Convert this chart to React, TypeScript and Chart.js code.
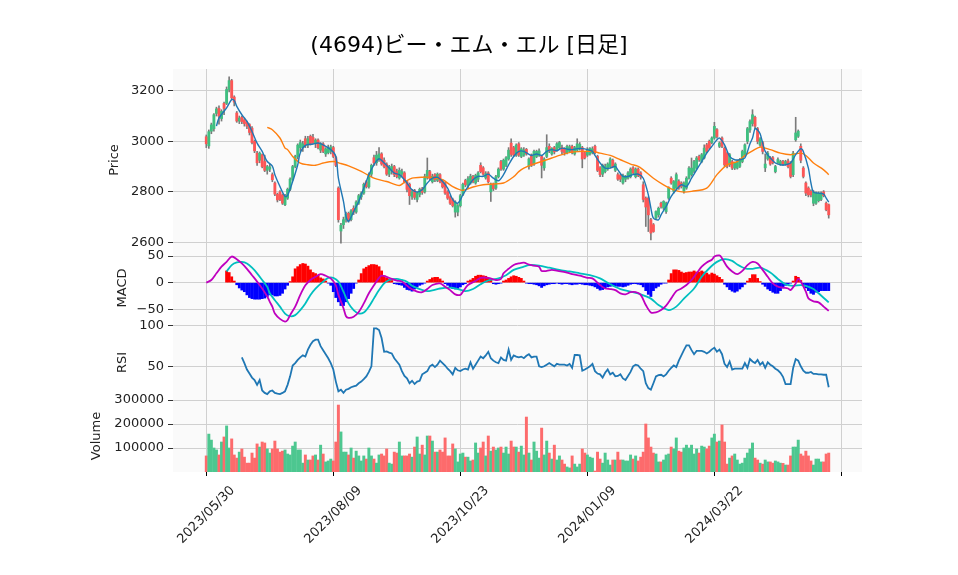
import React, { useEffect, useRef } from 'react';
import { Chart, registerables } from 'chart.js';

Chart.register(...registerables);

const TITLE = '(4694)ビー・エム・エル [日足]';
const X_TICKS = [0, 50, 100, 150, 200, 250];
const X_TICK_LABELS = ['2023/05/30', '2023/08/09', '2023/10/23', '2024/01/09', '2024/03/22', ''];
const PRICE_TICKS = [2600, 2800, 3000, 3200];
const MACD_TICKS = [-50, 0, 50];
const RSI_TICKS = [50, 100];
const VOL_TICKS = [100000, 200000, 300000];

const opens = [
  3018, 2982, 3040, 3050, 3110, 3130, 3090, 3150, 3150, 3205,
  3240, 3175, 3112, 3080, 3095, 3085, 3075, 3066, 3052, 3000,
  2953, 2925, 2947, 2920, 2885, 2890, 2868, 2835, 2790, 2800,
  2788, 2749, 2775, 2810, 2850, 2900, 2940, 2975, 2975, 3010,
  2985, 3020, 3015, 2990, 3005, 2965, 2990, 2950, 2955, 2960,
  2975, 2935, 2815, 2645, 2670, 2690, 2715, 2690, 2735, 2720,
  2755, 2780, 2795, 2840, 2820, 2870, 2935, 2915, 2930, 2950,
  2925, 2910, 2870, 2885, 2900, 2880, 2855, 2870, 2875, 2840,
  2830, 2780, 2805, 2770, 2790, 2812, 2800, 2855, 2880, 2840,
  2868, 2845, 2868, 2842, 2835, 2800, 2780, 2770, 2720, 2720,
  2745, 2790, 2845, 2825, 2835, 2860, 2835, 2850, 2905, 2895,
  2855, 2875, 2800, 2830, 2815, 2860, 2920, 2890, 2905, 2930,
  2993, 2975, 2945, 2990, 2940, 2945, 2968, 2900, 2945, 2910,
  2940, 2945, 2940, 2895, 2940, 2980, 2950, 2975, 2965, 2975,
  2975, 2970, 2955, 2960, 2980, 2950, 2965, 2970, 2975, 2955,
  2945, 2950, 2955, 2980, 2940, 2895, 2870, 2880, 2890, 2900,
  2925, 2885, 2868, 2865, 2835, 2850, 2855, 2860, 2895, 2860,
  2890, 2875, 2828, 2775, 2775, 2690, 2670, 2696, 2709, 2755,
  2736, 2722, 2775, 2854, 2802, 2815, 2841, 2835, 2802, 2815,
  2854, 2868, 2881, 2894, 2940, 2920, 2934, 2986, 3000, 2995,
  3013, 3046, 2980, 3013, 2973, 2953, 2907, 2920, 2894, 2894,
  2901, 2920, 2947, 3000, 3045, 3070, 3095, 3050, 2985, 2995,
  2895, 2930, 2935, 2935, 2880, 2915, 2910, 2920, 2910, 2922,
  2914, 2868, 3006, 3020, 2980, 2894, 2835, 2815, 2802, 2755,
  2755, 2765, 2770, 2800, 2755, 2749,
];
const highs = [
  3025, 3045, 3072, 3110, 3135, 3140, 3125, 3155, 3215, 3255,
  3245, 3180, 3118, 3100, 3100, 3092, 3080, 3070, 3058, 3005,
  2960, 2958, 2950, 2945, 2905, 2910, 2875, 2840, 2795, 2805,
  2792, 2790, 2815, 2855, 2905, 2945, 2990, 3005, 3000, 3020,
  3020, 3025, 3028, 3010, 3010, 2995, 2995, 2975, 2985, 2985,
  2980, 2940, 2820, 2675, 2700, 2720, 2720, 2730, 2745, 2765,
  2790, 2800, 2835, 2845, 2875, 2910, 2945, 2960, 2975, 2955,
  2935, 2915, 2905, 2910, 2905, 2890, 2895, 2890, 2880, 2845,
  2835, 2810, 2810, 2800, 2815, 2818, 2870, 2934, 2885, 2870,
  2872, 2875, 2872, 2848, 2840, 2805, 2785, 2775, 2765, 2750,
  2790, 2835, 2850, 2860, 2870, 2865, 2870, 2880, 2915, 2900,
  2880, 2880, 2835, 2835, 2865, 2895, 2925, 2930, 2940, 2975,
  3010, 2980, 2990, 2995, 2975, 2975, 2972, 2935, 2950, 2965,
  2965, 2970, 2945, 2935, 3026, 2990, 2975, 2980, 2995, 3000,
  2985, 2975, 2985, 2985, 2985, 2980, 3010, 2995, 2980, 2960,
  2975, 2975, 2978, 2985, 2945, 2900, 2910, 2910, 2915, 2935,
  2930, 2915, 2875, 2870, 2870, 2865, 2880, 2895, 2900, 2895,
  2895, 2880, 2840, 2780, 2780, 2695, 2675, 2725, 2740, 2760,
  2765, 2760, 2820, 2860, 2845, 2875, 2848, 2840, 2840, 2860,
  2900, 2934, 2925, 2940, 2945, 2952, 2986, 2992, 3005, 3018,
  3075, 3050, 2998, 3018, 2978, 2958, 2952, 2925, 2918, 2925,
  2932, 2965, 2990, 3055, 3085, 3125, 3100, 3055, 3015, 3000,
  2950, 2960, 2940, 2940, 2905, 2935, 2925, 2925, 2925, 2930,
  2920, 2960, 3095, 3045, 2990, 2900, 2840, 2820, 2808, 2805,
  2800, 2800, 2800, 2805, 2760, 2752,
];
const lows = [
  2975, 2972, 3030, 3040, 3100, 3068, 3080, 3105, 3145, 3195,
  3165, 3140, 3075, 3070, 3070, 3060, 3050, 3025, 2990, 2955,
  2905, 2915, 2895, 2880, 2870, 2880, 2840, 2785, 2760, 2765,
  2750, 2745, 2770, 2805, 2845, 2895, 2930, 2960, 2960, 2975,
  2975, 2985, 2990, 2975, 2970, 2955, 2955, 2940, 2950, 2950,
  2935, 2900, 2680, 2597, 2655, 2680, 2680, 2685, 2710, 2715,
  2750, 2770, 2790, 2815, 2815, 2860, 2905, 2905, 2920, 2905,
  2895, 2865, 2860, 2870, 2860, 2855, 2850, 2860, 2835, 2800,
  2750, 2770, 2770, 2760, 2780, 2790, 2795, 2850, 2845, 2835,
  2840, 2840, 2835, 2815, 2790, 2770, 2750, 2740, 2700, 2705,
  2740, 2785, 2820, 2815, 2830, 2835, 2830, 2840, 2875, 2865,
  2850, 2835, 2762, 2805, 2810, 2855, 2885, 2885, 2900, 2925,
  2940, 2940, 2940, 2940, 2935, 2940, 2945, 2890, 2900, 2905,
  2935, 2940, 2855, 2885, 2935, 2955, 2945, 2950, 2960, 2970,
  2950, 2945, 2950, 2955, 2950, 2945, 2960, 2965, 2895, 2930,
  2940, 2945, 2950, 2950, 2880, 2860, 2860, 2875, 2885, 2895,
  2895, 2880, 2845, 2840, 2830, 2840, 2850, 2855, 2870, 2855,
  2860, 2850, 2760, 2663, 2643, 2610, 2640, 2690, 2700, 2735,
  2730, 2715, 2770, 2830, 2795, 2810, 2810, 2815, 2795, 2810,
  2850, 2862, 2875, 2890, 2920, 2915, 2930, 2955, 2968, 2990,
  3008, 3012, 2975, 2975, 2900, 2895, 2900, 2888, 2888, 2890,
  2896, 2915, 2940, 2990, 3035, 3060, 3050, 2990, 2980, 2950,
  2880, 2925, 2905, 2910, 2875, 2910, 2905, 2905, 2905, 2895,
  2855, 2860, 3000, 3015, 2915, 2855, 2785, 2780, 2780, 2745,
  2750, 2760, 2765, 2780, 2725, 2696,
];
const closes = [
  2990, 3038, 3065, 3105, 3128, 3100, 3118, 3130, 3205, 3240,
  3172, 3155, 3080, 3092, 3078, 3070, 3060, 3035, 2995, 2962,
  2915, 2953, 2900, 2885, 2900, 2898, 2848, 2791, 2768, 2770,
  2755, 2782, 2810, 2850, 2900, 2940, 2985, 2995, 2990, 2985,
  3010, 2990, 2995, 3005, 2975, 2990, 2960, 2970, 2975, 2978,
  2940, 2905, 2690, 2668, 2690, 2712, 2690, 2725, 2720, 2760,
  2785, 2795, 2830, 2820, 2870, 2905, 2915, 2945, 2950, 2910,
  2900, 2870, 2900, 2900, 2868, 2860, 2885, 2880, 2840, 2810,
  2785, 2800, 2778, 2795, 2810, 2798, 2860, 2885, 2852, 2862,
  2848, 2870, 2840, 2820, 2795, 2775, 2755, 2745, 2760, 2745,
  2785, 2830, 2828, 2852, 2862, 2840, 2865, 2875, 2880, 2870,
  2872, 2840, 2830, 2812, 2860, 2890, 2890, 2925, 2935, 2965,
  2948, 2945, 2985, 2945, 2970, 2965, 2950, 2930, 2905, 2960,
  2960, 2962, 2905, 2930, 2975, 2962, 2972, 2958, 2990, 2995,
  2960, 2955, 2980, 2978, 2955, 2975, 2990, 2988, 2930, 2935,
  2965, 2972, 2970, 2955, 2885, 2868, 2905, 2900, 2910, 2930,
  2900, 2910, 2850, 2850, 2865, 2860, 2875, 2890, 2875, 2890,
  2865, 2858, 2770, 2740, 2709, 2637, 2643, 2722, 2735, 2742,
  2762, 2755, 2815, 2835, 2841, 2868, 2815, 2821, 2835, 2854,
  2894, 2894, 2920, 2934, 2927, 2947, 2973, 2960, 2973, 3013,
  3059, 3019, 2993, 2980, 2907, 2901, 2947, 2894, 2914, 2920,
  2927, 2960, 2986, 3050, 3078, 3105, 3060, 3000, 3010, 2960,
  2910, 2953, 2910, 2915, 2900, 2928, 2920, 2910, 2920, 2900,
  2861, 2953, 3033, 3040, 2925, 2861, 2795, 2788, 2788, 2800,
  2795, 2795, 2795, 2785, 2729, 2709,
];
const volumes = [
  67000, 158000, 133000, 100000, 92000, 71000, 125000, 146000, 192000, 100000,
  138000, 71000, 58000, 83000, 96000, 62000, 37000, 37000, 79000, 58000,
  117000, 104000, 125000, 121000, 96000, 79000, 96000, 129000, 96000, 83000,
  87000, 92000, 75000, 71000, 108000, 125000, 92000, 92000, 37000, 71000,
  50000, 50000, 67000, 71000, 50000, 112000, 75000, 42000, 46000, 54000,
  46000, 125000, 279000, 167000, 83000, 83000, 71000, 100000, 58000, 87000,
  67000, 46000, 67000, 54000, 100000, 67000, 54000, 37000, 71000, 75000,
  67000, 96000, 37000, 33000, 83000, 79000, 125000, 67000, 67000, 67000,
  75000, 62000, 104000, 146000, 75000, 112000, 71000, 150000, 150000, 129000,
  83000, 83000, 92000, 83000, 142000, 67000, 67000, 117000, 96000, 42000,
  75000, 79000, 62000, 62000, 46000, 50000, 121000, 79000, 100000, 125000,
  67000, 150000, 87000, 104000, 92000, 100000, 104000, 79000, 104000, 75000,
  129000, 104000, 104000, 83000, 108000, 71000, 229000, 79000, 50000, 125000,
  87000, 58000, 183000, 71000, 129000, 79000, 54000, 112000, 50000, 67000,
  50000, 33000, 21000, 17000, 67000, 33000, 21000, 33000, 96000, 79000,
  71000, 62000, 58000, 4000, 83000, 54000, 37000, 79000, 50000, 29000,
  50000, 50000, 83000, 50000, 50000, 46000, 46000, 71000, 54000, 67000,
  46000, 62000, 83000, 200000, 142000, 104000, 79000, 75000, 42000, 42000,
  50000, 71000, 75000, 104000, 96000, 142000, 87000, 83000, 100000, 112000,
  100000, 112000, 75000, 96000, 79000, 108000, 104000, 96000, 108000, 142000,
  158000, 125000, 129000, 196000, 125000, 33000, 58000, 67000, 75000, 50000,
  33000, 37000, 58000, 79000, 96000, 121000, 58000, 50000, 37000, 33000,
  50000, 42000, 42000, 37000, 46000, 42000, 37000, 36000, 29000, 29000,
  67000, 104000, 104000, 133000, 75000, 67000, 87000, 67000, 46000, 29000,
  54000, 54000, 42000, 42000, 75000, 79000,
];

// moving averages (day index, value)
const ma5Points = [
  [4, 3060], [5, 3092], [8, 3132], [10, 3165], [11, 3162], [12, 3138], [14, 3105], [16, 3079], [18, 3039], [20, 2993],
  [22, 2960], [24, 2920], [26, 2902], [27, 2868], [29, 2821], [31, 2782], [32, 2786], [34, 2841], [36, 2907], [37, 2955],
  [39, 2984], [42, 2989], [44, 2993], [46, 2986], [49, 2967], [51, 2940], [52, 2854], [54, 2762], [55, 2703], [56, 2683],
  [58, 2722], [60, 2762], [62, 2815], [64, 2868], [66, 2907], [68, 2931], [70, 2914], [72, 2894], [74, 2874], [76, 2868],
  [78, 2848], [79, 2835], [81, 2808], [83, 2799], [85, 2808], [87, 2835], [89, 2854], [91, 2857], [93, 2841], [95, 2815],
  [97, 2769], [99, 2755], [101, 2788], [103, 2821], [105, 2848], [107, 2861], [109, 2861], [111, 2870], [113, 2854], [115, 2844],
  [117, 2868], [119, 2907], [121, 2940], [123, 2960], [125, 2960], [128, 2944], [130, 2950], [132, 2944], [134, 2960], [136, 2967],
  [138, 2963], [140, 2973], [142, 2969], [144, 2967], [146, 2971], [148, 2971], [150, 2967], [152, 2960], [153, 2944], [155, 2914],
  [157, 2894], [159, 2894], [161, 2901], [162, 2887], [164, 2861], [166, 2861], [168, 2868], [170, 2870], [172, 2854], [174, 2788],
  [175, 2736], [176, 2696], [178, 2689], [179, 2709], [181, 2742], [183, 2782], [185, 2808], [187, 2828], [189, 2821], [191, 2854],
  [193, 2887], [195, 2920], [197, 2953], [199, 2980], [201, 3006], [202, 3013], [204, 2986], [206, 2940], [208, 2927], [210, 2927],
  [212, 2934], [214, 2990], [215, 3013], [216, 3050], [217, 3045], [218, 3030], [219, 2993], [220, 2960], [222, 2934], [224, 2914],
  [226, 2907], [228, 2907], [230, 2914], [232, 2947], [234, 2971], [235, 2960], [237, 2894], [238, 2835], [239, 2799], [241, 2795],
  [243, 2791], [244, 2775], [245, 2759],
];
const ma25Points = [
  [24, 3055], [26, 3046], [29, 3013], [31, 2973], [32, 2967], [34, 2940], [37, 2914], [40, 2907], [43, 2905], [46, 2914],
  [50, 2920], [53, 2912], [56, 2903], [61, 2881], [66, 2854], [71, 2841], [76, 2825], [78, 2838], [81, 2854], [85, 2858],
  [89, 2857], [93, 2848], [97, 2821], [101, 2806], [105, 2819], [109, 2828], [113, 2831], [117, 2835], [121, 2860], [123, 2880],
  [125, 2894], [128, 2907], [132, 2920], [136, 2934], [140, 2947], [144, 2957], [148, 2960], [152, 2960], [155, 2953], [159, 2944],
  [163, 2927], [167, 2910], [170, 2901], [172, 2887], [176, 2854], [180, 2828], [184, 2808], [188, 2799], [191, 2802], [197, 2815],
  [201, 2868], [205, 2907], [209, 2920], [212, 2944], [215, 2962], [218, 2977], [222, 2967], [226, 2953], [230, 2947], [234, 2953],
  [236, 2944], [239, 2914], [243, 2887], [245, 2868],
];

// MACD panel
const macdPoints = [
  [0, 0], [2, 5], [4, 17.5], [6, 30], [8, 39], [10, 49], [12, 44], [14, 36], [16, 26], [18, 14],
  [20, 2], [22, -11], [24, -26], [25, -36], [26, -45], [27, -58], [29, -68], [31, -73], [32, -70], [33, -61],
  [35, -45], [37, -23], [39, -5], [41, 5], [43, 11], [45, 16], [47, 13], [49, 8], [51, -5], [52, -23],
  [54, -48], [55, -63], [56, -66], [58, -64], [60, -55], [62, -39], [64, -20], [66, -5], [68, 9], [69, 13],
  [71, 11], [73, 7], [75, 4], [77, 2], [80, -9.5], [83, -17], [85, -18], [87, -12], [89, -4.5], [92, -1.4],
  [94, -7.6], [96, -14], [98, -22], [100, -23], [101, -17], [103, -4.5], [106, 3], [108, 9], [111, 9], [114, 5],
  [116, 7], [117, 17.5], [119, 26], [121, 33], [123, 36], [125, 37.5], [127, 34], [129, 32], [131, 30], [132, 22],
  [134, 22], [136, 24], [138, 22.5], [142, 19], [144, 16], [147, 13], [150, 9], [152, 8], [155, -4.5], [157, -11],
  [159, -12], [161, -14], [163, -20], [165, -22], [167, -18], [169, -18], [171, -23], [173, -42], [175, -56], [177, -56],
  [179, -51.5], [181, -43], [183, -29.5], [185, -16], [187, -11], [189, -4.5], [191, 5], [193, 17.5], [195, 30], [197, 38],
  [199, 43], [200, 49], [202, 51], [203, 46], [205, 30], [207, 21], [209, 16], [211, 22], [213, 33], [215, 39],
  [217, 36], [219, 24], [221, 11], [223, -1.4], [225, -7.6], [227, -9.5], [229, -11], [230, -14], [232, -1.4], [233, 7],
  [234, 2], [236, -17], [237, -29.5], [239, -35], [241, -37], [243, -45], [245, -53],
];
const signalPoints = [
  [8, 21], [10, 33], [12, 38], [14, 39], [16, 36], [18, 28], [20, 17.5], [22, 5], [24, -8], [25, -20],
  [27, -33], [29, -45], [31, -58], [33, -63], [35, -61], [37, -51.5], [39, -39], [41, -23], [43, -11], [46, 2],
  [48, 9], [50, 9], [52, 2], [54, -17], [56, -39], [58, -51.5], [60, -58], [62, -56], [64, -45], [66, -29.5],
  [68, -14], [70, -1.4], [72, 5], [75, 7], [77, 5], [79, 1.8], [81, -5.7], [84, -12], [87, -16], [89, -14.5],
  [92, -11], [96, -9.5], [99, -12], [102, -16], [105, -12], [108, -3], [111, 4], [115, 8], [118, 14], [121, 24],
  [125, 30], [127, 33], [131, 32], [135, 28], [139, 24], [143, 21], [147, 17.5], [151, 14], [155, 8], [159, -3],
  [163, -12], [167, -17], [171, -22], [175, -30], [178, -42], [182, -51.5], [185, -45], [188, -30], [192, -11], [195, 11],
  [198, 27], [201, 39], [204, 44], [207, 41], [209, 34], [212, 27], [215, 26], [218, 28], [222, 19], [225, 7],
  [228, -3], [231, -6], [234, -4.5], [236, -6], [239, -12], [241, -20], [245, -37],
];
const histogram = [
  null, null, null, null, null, null, null, null, 22, 19,
  11, 3, -4, -10, -14, -17, -23, -28, -30, -31,
  -31, -31, -30, -29, -26, -23, -23, -25, -25, -24,
  -20, -12, -5, 2, 11, 26, 30, 34, 36, 35,
  31, 24, 19, 17, 14, 9, 7, 3, -1, -5,
  -17, -28, -36, -43, -43, -36, -30, -20, -11, -1,
  5, 17, 26, 29, 32, 34, 34, 33, 30, 22,
  13, 9, 7, 4, -2, -3, -4, -5, -9, -13,
  -14, -16, -12, -8, -5, -3, -1, 3, 6, 9,
  10, 10, 7, 3, -2, -5, -8, -11, -12, -11,
  -8, -4, -2, 3, 5, 8, 12, 14, 14, 13,
  12, 8, 6, -2, -3, -2, -1, 3, 5, 8,
  11, 13, 12, 10, 8, 3, -1, -2, -2, -3,
  -4, -6, -9, -6, -4, -3, -2, -2, -1, -2,
  -3, -2, -2, -3, -4, -3, -3, -2, -3, -4,
  -4, -5, -6, -8, -11, -14, -13, -10, -8, -7,
  -6, -6, -7, -7, -8, -7, -5, -3, -2, -2,
  -3, -4, -8, -15, -22, -26, -15, -10, -7, -3,
  -1, -1, 5, 17, 24, 24, 23, 20, 18, 19,
  20, 20, 22, 20, 20, 22, 20, 18, 15, 18,
  16, 13, 10, 6, -3, -8, -13, -16, -18, -16,
  -12, -8, -3, 3, 8, 15, 15, 8, 2, -3,
  -7, -12, -15, -18, -20, -20, -15, -10, -5, -3,
  -1, 3, 12, 10, 4, -5, -10, -15, -20, -22,
  -18, -17, -15, -15, -15, -15,
];

// RSI (14) per day
const rsi = [
  null, null, null, null, null, null, null, null, null, null,
  null, null, null, null, 61, 54, 46, 41, 36, 33,
  27, 33, 20, 17, 15.5, 19, 20, 17, 16, 15.5,
  17, 19, 27, 37.5, 51, 54, 58, 61, 63.5, 62,
  70.6, 76.7, 81, 83, 83, 75, 70, 65, 60, 54,
  46, 31, 19, 21, 17, 21, 22, 24, 25, 26,
  29, 31, 34, 37.5, 43, 50, 97, 97, 95, 85,
  68, 68.5, 67, 66, 60, 56, 52, 44, 38, 35,
  29, 32, 28, 31, 32, 40, 42, 44, 50, 52,
  49, 52, 57, 54, 51, 47, 44, 40, 48, 45,
  44, 46, 47, 46, 55, 47, 52, 57, 62, 60,
  63.5, 68, 60, 57, 55, 54, 61, 58, 57, 70.6,
  58, 63.5, 62, 61, 62, 60, 63, 65, 61, 62,
  62, 50, 49, 50, 52, 54, 52, 50, 53, 52,
  52, 52, 51, 53, 48, 64, 64, 63.5, 44.5, 46,
  48, 50, 53, 44, 41, 40, 36, 42, 46, 40,
  42, 37.5, 38, 40, 35, 33, 38, 43, 50, 52,
  51, 47, 44, 29, 23, 21, 29, 37.5, 39, 39.5,
  37.5, 40, 44.5, 48, 51, 49, 57, 63.5, 70, 76,
  76, 70, 65, 69, 69, 69, 68, 66, 68, 71,
  73, 68, 70.6, 65, 53, 49, 56, 46, 47, 47,
  47, 47, 54, 48, 59, 56, 54, 58, 52, 55,
  48, 55, 52, 50, 47, 45, 42, 37, 28, 28,
  28, 48, 59, 57, 50, 44.5, 42, 42, 43, 40.5,
  40.5, 40, 40, 39.5, 39.5, 24,
];

const FONT = '"DejaVu Sans", "Noto Sans CJK JP", sans-serif';
const GRID = '#d0d0d0';
const PANEL_BG = '#fafafa';
const UP = '#3fbf80';
const DOWN = '#fd5656';
const VOL_UP = '#4dc790';
const VOL_DOWN = '#fd6b6c';
const WICK = '#7a7a7a';

const fmt = (v: number) => (v < 0 ? '\u2212' + Math.abs(v) : String(v));

const panelPlugin = {
  id: 'panelDeco',
  beforeDraw(chart: any) {
    const { ctx, chartArea } = chart;
    ctx.save();
    ctx.fillStyle = PANEL_BG;
    ['yP', 'yM', 'yR', 'yV'].forEach((id) => {
      const s = chart.scales[id];
      ctx.fillRect(chartArea.left, s.top, chartArea.right - chartArea.left, s.bottom - s.top);
    });
    ctx.restore();
  },
  afterDraw(chart: any) {
    const { ctx } = chart;
    ctx.save();
    ctx.fillStyle = '#000';
    ctx.textAlign = 'center';
    ctx.textBaseline = 'middle';
    ctx.font = '22px ' + FONT;
    ctx.fillText(TITLE, 469, 46);

    ctx.fillStyle = '#222';
    ctx.font = '13px ' + FONT;
    const titles: [string, string, number][] = [
      ['yP', 'Price', 115],
      ['yM', 'MACD', 123],
      ['yR', 'RSI', 123],
      ['yV', 'Volume', 97],
    ];
    titles.forEach(([id, text, x]) => {
      const s = chart.scales[id];
      ctx.save();
      ctx.translate(x, (s.top + s.bottom) / 2);
      ctx.rotate(-Math.PI / 2);
      ctx.fillText(text, 0, 0);
      ctx.restore();
    });

    const xs = chart.scales.x;
    X_TICKS.forEach((v, i) => {
      const label = X_TICK_LABELS[i];
      if (!label) return;
      const px = xs.getPixelForValue(v);
      ctx.save();
      ctx.translate(px, 515);
      ctx.rotate(-Math.PI / 4);
      ctx.fillText(label, 0, 0);
      ctx.restore();
    });
    ctx.restore();
  },
};

function yAxis(ticks: number[], min: number, max: number, weight: number, order: number) {
  return {
    type: 'linear',
    position: 'left',
    stack: 'panels',
    stackWeight: weight,
    weight: order,
    min,
    max,
    grid: { color: GRID, lineWidth: 1, tickColor: '#333', tickLength: 5 },
    border: { display: false },
    ticks: {
      color: '#222',
      font: { size: 13, family: FONT },
      padding: 4,
      autoSkip: false,
      callback: (v: number) => fmt(v),
    },
    afterBuildTicks: (s: any) => {
      s.ticks = ticks.map((v) => ({ value: v }));
    },
    afterFit: (s: any) => {
      s.width = 173;
    },
  };
}

export default function App() {
  const ref = useRef<HTMLCanvasElement | null>(null);

  useEffect(() => {
    if (!ref.current) return;
    const idx = closes.map((_, i) => i);
    const isUp = idx.map((i) => closes[i] >= opens[i]);

    const pts = (arr: number[][]) => arr.map(([x, y]) => ({ x, y }));
    const chart = new Chart(ref.current, {
      type: 'bar',
      data: {
        datasets: [
          {
            type: 'line', data: pts(ma5Points), yAxisID: 'yP', borderColor: '#1f77b4', borderWidth: 1.4,
            pointRadius: 0, tension: 0.3,
          },
          {
            type: 'line', data: pts(ma25Points), yAxisID: 'yP', borderColor: '#ff7f0e', borderWidth: 1.4,
            pointRadius: 0, tension: 0.3,
          },
          {
            type: 'bar', data: idx.map((i) => ({ x: i, y: [opens[i], closes[i]] })), yAxisID: 'yP',
            backgroundColor: idx.map((i) => (isUp[i] ? UP : DOWN)), barThickness: 2.2, grouped: false,
            minBarLength: 1, borderWidth: 0,
          },
          {
            type: 'bar', data: idx.map((i) => ({ x: i, y: [lows[i], highs[i]] })), yAxisID: 'yP',
            backgroundColor: WICK, barThickness: 1, grouped: false, borderWidth: 0,
          },
          {
            type: 'line', data: pts(macdPoints), yAxisID: 'yM', borderColor: '#bf00bf', borderWidth: 1.8,
            pointRadius: 0, tension: 0.3,
          },
          {
            type: 'line', data: pts(signalPoints), yAxisID: 'yM', borderColor: '#00bfbf', borderWidth: 1.8,
            pointRadius: 0, tension: 0.3,
          },
          {
            type: 'bar',
            data: idx.filter((i) => histogram[i] !== null).map((i) => ({ x: i, y: histogram[i] })),
            yAxisID: 'yM',
            backgroundColor: idx.filter((i) => histogram[i] !== null).map((i) => ((histogram[i] as number) >= 0 ? '#ff0000' : '#0000ff')),
            barThickness: 2.2, grouped: false, borderWidth: 0,
          },
          {
            type: 'line',
            data: idx.filter((i) => rsi[i] !== null).map((i) => ({ x: i, y: rsi[i] })),
            yAxisID: 'yR', borderColor: '#1f77b4', borderWidth: 1.8, pointRadius: 0, tension: 0,
          },
          {
            type: 'bar', data: idx.map((i) => ({ x: i, y: volumes[i] })), yAxisID: 'yV',
            backgroundColor: idx.map((i) => (isUp[i] ? VOL_UP : VOL_DOWN)), barThickness: 2.3, grouped: false,
            borderWidth: 0,
          },
        ] as any,
      },
      options: {
        animation: false,
        responsive: false,
        maintainAspectRatio: false,
        devicePixelRatio: 1,
        layout: { padding: { top: 69, right: 96, left: 0, bottom: 0 } },
        plugins: { legend: { display: false }, tooltip: { enabled: false }, title: { display: false } },
        events: [],
        scales: {
          x: {
            type: 'linear',
            offset: false,
            min: -13.1,
            max: 258.1,
            grid: { offset: false, color: GRID, lineWidth: 1, tickColor: '#000', tickLength: 4 },
            border: { display: false },
            ticks: { display: false },
            afterBuildTicks: (s: any) => {
              s.ticks = X_TICKS.map((v) => ({ value: v }));
            },
            afterFit: (s: any) => {
              s.height = 103;
            },
          },
          yV: yAxis(VOL_TICKS, 0, 300000, 72, 1),
          yR: yAxis(RSI_TICKS, 8.2, 101.2, 75, 2),
          yM: yAxis(MACD_TICKS, -79.5, 59.4, 74, 3),
          yP: yAxis(PRICE_TICKS, 2566, 3286, 182, 4),
        } as any,
      },
      plugins: [panelPlugin],
    });
    return () => chart.destroy();
  }, []);

  return (
    <div style={{ position: 'fixed', left: 0, top: 0, width: 958, height: 575, background: '#fff' }}>
      <canvas ref={ref} width={958} height={575} style={{ display: 'block', width: 958, height: 575 }} />
    </div>
  );
}
